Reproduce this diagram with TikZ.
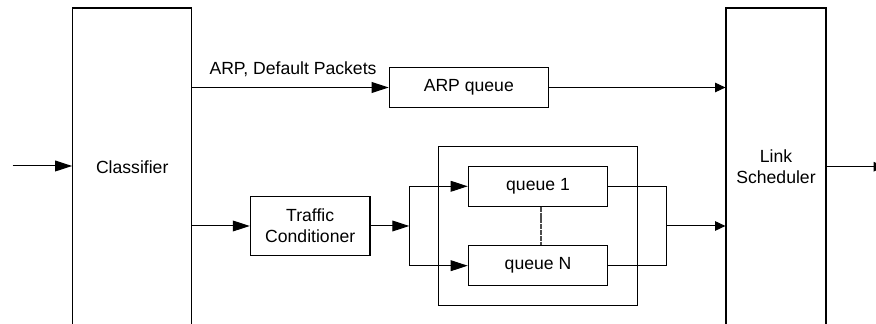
\documentclass[tikz,border=0pt]{standalone}
\usepackage{fontspec}
\setmainfont{Liberation Sans}
\usetikzlibrary{arrows.meta,calc}

\tikzset{
  blk/.style={draw=black, line width=0.6pt, rectangle, inner sep=0pt, align=center,
              font=\fontsize{8.8pt}{10.4pt}\selectfont},
  wire/.style={draw=black, line width=0.5pt},
  bigarr/.style={wire, -{Triangle[length=8.5pt, width=5.4pt]}},
  smallarr/.style={wire, -{Triangle[length=5.2pt, width=4.8pt]}},
  lbl/.style={inner sep=0pt, font=\fontsize{8.8pt}{10.4pt}\selectfont},
}

\begin{document}
\begin{tikzpicture}[x=0.5pt, y=-0.5pt]
  \useasboundingbox (0,0) rectangle (876,324);

  % tall blocks, running past the lower edge
  \node[blk, minimum width=59.5pt, minimum height=159pt] (cls) at (132.2,167) {Classifier};
  \node[blk, minimum width=50pt, minimum height=159pt] (ls) at (776,167) {Link\\Scheduler};

  % queue path for ARP / default traffic
  \node[blk, minimum width=79.5pt, minimum height=19.8pt] (arp) at (468.8,87.5) {ARP queue};
  \node[lbl] (arplbl) at (293,69.5) {ARP, Default Packets};

  % conditioned traffic path
  \node[blk, minimum width=59.8pt, minimum height=29.7pt] (tc) at (310.2,226) {Traffic\\Conditioner};
  \node[blk, minimum width=99.3pt, minimum height=79.3pt] (grp) at (538,226) {};
  \node[blk, minimum width=69.7pt, minimum height=20pt] (q1) at (538,186.3) {queue 1};
  \node[blk, minimum width=69.7pt, minimum height=20pt] (qn) at (538,265.7) {queue N};
  \draw[draw=black!70, line width=0.6pt, dash pattern=on 2.5pt off 0.4pt] ([xshift=1.5pt]q1.south) -- ([xshift=1.5pt]qn.north);

  % helper points
  \coordinate (in) at (12.7,166);
  \coordinate (out) at (884,166.7);
  \coordinate (split) at (409.3,226);
  \coordinate (merge) at (666.7,226);

  % input / output
  \draw[bigarr] (in) -- (in -| cls.west);
  \draw[smallarr] (ls.east |- out) -- (out);

  % upper branch
  \draw[bigarr] (cls.east |- arp.west) -- (arp.west);
  \draw[smallarr] (arp.east) -- (ls.west |- arp.east);

  % lower branch
  \draw[bigarr] (cls.east |- tc.west) -- (tc.west);
  \draw[bigarr] (tc.east) -- (split);
  \draw[wire] (split |- q1.west) -- (split |- qn.west);
  \draw[bigarr] (split |- q1.west) -- (q1.west);
  \draw[bigarr] (split |- qn.west) -- (qn.west);
  \draw[wire] (q1.east) -- (merge |- q1.east) -- (merge |- qn.east) -- (qn.east);
  \draw[smallarr] (merge) -- (ls.west |- merge);
\end{tikzpicture}
\end{document}
